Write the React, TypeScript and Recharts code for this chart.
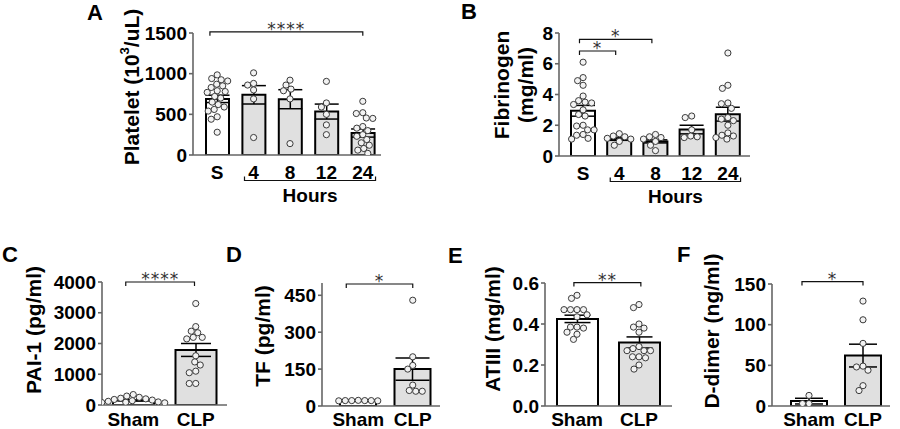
import React from 'react';
import { ComposedChart, Bar, Cell, ErrorBar, Scatter, XAxis, YAxis, ReferenceLine } from 'recharts';

const FONT = "'Liberation Sans', Arial, Helvetica, sans-serif";

// A - platelets
const plateletGroups = ['S', '4', '8', '12', '24'];
const plateletMean = [690, 740, 686, 534, 270];
const plateletSem = [45, 113, 117, 92, 50];
const plateletS = [985, 940, 925, 910, 870, 850, 830, 790, 780, 770, 720, 700, 650, 620, 590, 560, 540, 470, 440, 280];
const platelet4 = [1010, 880, 860, 800, 690, 215];
const platelet8 = [920, 860, 810, 790, 690, 140];
const platelet12 = [905, 640, 590, 500, 370, 250];
const platelet24 = [660, 520, 510, 455, 450, 350, 330, 300, 250, 230, 190, 150, 120, 80, 60, 20];

// B - fibrinogen
const fibGroups = ['S', '4', '8', '12', '24'];
const fibMean = [2.94, 1.1, 0.95, 1.72, 2.72];
const fibSem = [0.35, 0.08, 0.1, 0.28, 0.45];
const fibS = [6.1, 5.1, 4.9, 4.6, 3.9, 3.6, 3.5, 3.45, 3.35, 3.0, 2.7, 2.6, 2.0, 1.95, 1.7, 1.7, 1.4, 1.35, 1.15, 1.1];
const fib4 = [1.45, 1.3, 1.25, 1.15, 1.1, 0.95, 0.7];
const fib8 = [1.4, 1.25, 1.2, 1.1, 0.95, 0.7, 0.35];
const fib12 = [2.6, 2.5, 1.7, 1.3, 1.25, 1.2];
const fib24 = [6.7, 4.6, 4.4, 3.45, 3.4, 3.1, 2.5, 2.4, 2.3, 2.0, 1.5, 1.35, 1.3, 1.2, 1.1];

// C - PAI-1
const shamClp = ['Sham', 'CLP'];
const paiMean = [150, 1790];
const paiSem = [20, 210];
const paiSham = [340, 290, 250, 220, 200, 180, 160, 140, 120, 100, 90, 80, 70, 60];
const paiClp = [3300, 2550, 2400, 2350, 2200, 2200, 2150, 1600, 1400, 1300, 1100, 1050, 700, 700];

// D - TF
const tfMean = [22, 150];
const tfSem = [1, 45];
const tfSham = [22, 21, 22, 23, 21, 22, 22];
const tfClp = [430, 200, 165, 150, 85, 63, 60, 60];

// E - ATIII
const atMean = [0.425, 0.31];
const atSem = [0.018, 0.027];
const atSham = [0.54, 0.525, 0.47, 0.47, 0.47, 0.47, 0.445, 0.435, 0.385, 0.38, 0.385, 0.36, 0.35, 0.325];
const atClp = [0.495, 0.48, 0.4, 0.385, 0.38, 0.36, 0.29, 0.28, 0.27, 0.27, 0.27, 0.24, 0.24, 0.235, 0.2, 0.18];

// F - D-dimer
const ddMean = [6, 62];
const ddSem = [3.5, 14];
const ddSham = [13, 3, 3];
const ddClp = [129, 106, 77, 49, 48, 44, 25, 19];

type Bracket = { from: number; to: number; y: number; stars: string };

type PanelCfg = {
  x0: number; yTop: number; plotW: number; plotH: number; padL: number; padR: number;
  labels: string[]; means: number[]; sems: number[]; dots: number[][];
  yMax: number; yTicks: number[]; fmt?: (v: number) => string;
  barSize: number; capW: number; tickGap: number;
  brackets: Bracket[]; hours?: boolean;
};

// simple beeswarm so circles don't sit on top of each other
function swarm(values: number[], center: number, pyPerUnit: number, pxPerUnit: number, d = 6.2) {
  const placed: { x: number; y: number }[] = [];
  const order = values.map((_, i) => i).sort((a, b) => values[b] - values[a]);
  const out: { x: number; y: number }[] = new Array(values.length);
  for (const i of order) {
    const py = values[i] * pyPerUnit;
    let best = 0;
    for (let k = 0; k < 400; k++) {
      const off = (k % 2 === 0 ? 1 : -1) * Math.ceil(k / 2) * 0.5;
      if (placed.every((p) => (p.x - off) ** 2 + (p.y - py) ** 2 >= d * d)) {
        best = off;
        break;
      }
    }
    placed.push({ x: best, y: py });
    out[i] = { x: center + best / pxPerUnit, y: values[i] };
  }
  return out;
}

const Dot = (props: any) => (
  <circle cx={props.cx} cy={props.cy} r={3.1} fill="#f2f2f2" stroke="#3a3a3a" strokeWidth={1} />
);

const bracketShape = (stars: string) => (p: any) => (
  <g>
    <path
      d={`M${p.x1},${p.y1 + 4}L${p.x1},${p.y1}L${p.x2},${p.y2}L${p.x2},${p.y2 + 4}`}
      fill="none"
      stroke="#111"
      strokeWidth={1.2}
    />
    <text
      x={(p.x1 + p.x2) / 2}
      y={p.y1 + 3}
      textAnchor="middle"
      fontFamily="'DejaVu Sans', sans-serif"
      fontSize={17}
      letterSpacing={1}
      fill="#333"
    >
      {stars}
    </text>
  </g>
);

const hoursShape = (p: any) => (
  <g>
    <path
      d={`M${p.x1},${p.y1 + 21.5}L${p.x1},${p.y1 + 25.5}L${p.x2},${p.y2 + 25.5}L${p.x2},${p.y2 + 21.5}`}
      fill="none"
      stroke="#111"
      strokeWidth={1.2}
    />
    <text x={(p.x1 + p.x2) / 2} y={p.y1 + 46.5} textAnchor="middle" fontFamily={FONT} fontWeight="bold" fontSize={19} fill="#000">
      Hours
    </text>
  </g>
);

const LEFT = 60;
const TOP = 40;
const RIGHT = 10;
const BOTTOM = 50;

function Panel({ cfg }: { cfg: PanelCfg }) {
  const n = cfg.labels.length;
  const data = cfg.means.map((m, i) => ({ x: i, label: cfg.labels[i], mean: m, sem: cfg.sems[i] }));
  const bw = (cfg.plotW - cfg.padL - cfg.padR) / n;
  const pts = cfg.dots.flatMap((vals, i) => swarm(vals, i, cfg.plotH / cfg.yMax, bw));
  const width = LEFT + cfg.plotW + RIGHT;
  const height = TOP + cfg.plotH + BOTTOM;
  const tickStyle = { fontFamily: FONT, fontWeight: 'bold' as const, fontSize: 19, fill: '#000' };
  const axisStroke = { stroke: '#666', strokeWidth: 1.6 };
  return (
    <div style={{ position: 'absolute', left: cfg.x0 - LEFT, top: cfg.yTop - TOP }}>
      <ComposedChart width={width} height={height} data={data} margin={{ top: TOP, right: RIGHT, bottom: 0, left: 0 }}>
        <XAxis
          xAxisId="cat"
          type="category"
          dataKey="label"
          padding={{ left: cfg.padL, right: cfg.padR }}
          height={BOTTOM}
          tickLine={false}
          tickSize={0}
          tickMargin={cfg.tickGap}
          axisLine={axisStroke}
          tick={tickStyle}
          interval={0}
        />
        <XAxis
          xAxisId="num"
          type="number"
          dataKey="x"
          domain={[-0.5, n - 0.5]}
          allowDataOverflow
          padding={{ left: cfg.padL, right: cfg.padR }}
          hide
        />
        <YAxis
          type="number"
          domain={[0, cfg.yMax]}
          allowDataOverflow
          ticks={cfg.yTicks}
          tickFormatter={cfg.fmt}
          width={LEFT}
          tickSize={4}
          tickMargin={2}
          axisLine={axisStroke}
          tickLine={axisStroke}
          tick={tickStyle}
          interval={0}
        />
        <Bar xAxisId="cat" dataKey="mean" barSize={cfg.barSize} stroke="#000" strokeWidth={2} isAnimationActive={false}>
          {data.map((_, i) => (
            <Cell key={i} fill={i === 0 ? '#ffffff' : '#e0e0e0'} />
          ))}
          <ErrorBar dataKey="sem" width={cfg.capW} stroke="#000" strokeWidth={1.5} isAnimationActive={false} />
        </Bar>
        <Scatter xAxisId="num" data={pts} dataKey="y" shape={Dot} isAnimationActive={false} />
        {cfg.brackets.map((b, i) => (
          <ReferenceLine
            key={`br${i}`}
            xAxisId="num"
            segment={[{ x: b.from, y: b.y }, { x: b.to, y: b.y }]}
            ifOverflow="visible"
            shape={bracketShape(b.stars)}
          />
        ))}
        {cfg.hours && (
          <ReferenceLine
            xAxisId="num"
            segment={[{ x: 0.75, y: 0 }, { x: n - 0.65, y: 0 }]}
            ifOverflow="visible"
            shape={hoursShape}
          />
        )}
      </ComposedChart>
    </div>
  );
}

const panels: PanelCfg[] = [
  {
    x0: 193, yTop: 33, plotW: 188, plotH: 122, padL: 6, padR: 0,
    labels: plateletGroups, means: plateletMean, sems: plateletSem,
    dots: [plateletS, platelet4, platelet8, platelet12, platelet24],
    yMax: 1500, yTicks: [0, 500, 1000, 1500], barSize: 23, capW: 12, tickGap: 11,
    brackets: [{ from: -0.2, to: 4, y: 1515, stars: '****' }], hours: true,
  },
  {
    x0: 559, yTop: 33, plotW: 191, plotH: 123, padL: 6, padR: 4,
    labels: fibGroups, means: fibMean, sems: fibSem,
    dots: [fibS, fib4, fib8, fib12, fib24],
    yMax: 8, yTicks: [0, 2, 4, 6, 8], barSize: 24, capW: 12, tickGap: 11,
    brackets: [
      { from: -0.1, to: 1.9, y: 7.59, stars: '*' },
      { from: -0.1, to: 0.9, y: 6.83, stars: '*' },
    ],
    hours: true,
  },
  {
    x0: 102, yTop: 282, plotW: 125, plotH: 123, padL: 0, padR: 0,
    labels: shamClp, means: paiMean, sems: paiSem, dots: [paiSham, paiClp],
    yMax: 4000, yTicks: [0, 1000, 2000, 3000, 4000], barSize: 41, capW: 15, tickGap: 8,
    brackets: [{ from: -0.12, to: 0.98, y: 4000, stars: '****' }],
  },
  {
    x0: 322, yTop: 283, plotW: 118, plotH: 123, padL: 9, padR: 0,
    labels: shamClp, means: tfMean, sems: tfSem, dots: [tfSham, tfClp],
    yMax: 500, yTicks: [0, 150, 300, 450], barSize: 36, capW: 17, tickGap: 7,
    brackets: [{ from: -0.22, to: 1, y: 496, stars: '*' }],
  },
  {
    x0: 545, yTop: 283, plotW: 127, plotH: 123, padL: 1, padR: 2,
    labels: shamClp, means: atMean, sems: atSem, dots: [atSham, atClp],
    yMax: 0.6, yTicks: [0, 0.2, 0.4, 0.6], fmt: (v: number) => v.toFixed(1),
    barSize: 41, capW: 13, tickGap: 7,
    brackets: [{ from: -0.05, to: 1.03, y: 0.602, stars: '**' }],
  },
  {
    x0: 772, yTop: 284, plotW: 118, plotH: 122, padL: 10, padR: 0,
    labels: shamClp, means: ddMean, sems: ddSem, dots: [ddSham, ddClp],
    yMax: 150, yTicks: [0, 50, 100, 150], barSize: 36, capW: 14, tickGap: 7,
    brackets: [{ from: -0.13, to: 1, y: 153, stars: '*' }],
  },
];

const letters = [
  { t: 'A', x: 87, y: 20 },
  { t: 'B', x: 461, y: 19 },
  { t: 'C', x: 2, y: 262 },
  { t: 'D', x: 226, y: 262 },
  { t: 'E', x: 448, y: 263 },
  { t: 'F', x: 677, y: 262 },
];

const titleStyle = { fontFamily: FONT, fontWeight: 'bold' as const, fontSize: 21, fill: '#000' };

function Titles() {
  const rot = (x: number, y: number) => `translate(${x},${y}) rotate(-90)`;
  return (
    <svg width={900} height={429} style={{ position: 'absolute', left: 0, top: 0 }}>
      {letters.map((l) => (
        <text key={l.t} x={l.x} y={l.y} fontFamily={FONT} fontWeight="bold" fontSize={22}>
          {l.t}
        </text>
      ))}
      <text transform={rot(131, 87)} textAnchor="middle" dominantBaseline="central" {...titleStyle}>
        Platelet (10<tspan dy={-7} fontSize={13}>3</tspan>
        <tspan dy={7}>/uL)</tspan>
      </text>
      <text transform={rot(501, 85)} textAnchor="middle" dominantBaseline="central" {...titleStyle}>
        Fibrinogen
      </text>
      <text transform={rot(525, 85)} textAnchor="middle" dominantBaseline="central" {...titleStyle}>
        (mg/ml)
      </text>
      <text transform={rot(33, 330)} textAnchor="middle" dominantBaseline="central" {...titleStyle}>
        PAI-1 (pg/ml)
      </text>
      <text transform={rot(262, 336)} textAnchor="middle" dominantBaseline="central" {...titleStyle}>
        TF (pg/ml)
      </text>
      <text transform={rot(492, 329)} textAnchor="middle" dominantBaseline="central" {...titleStyle}>
        ATIII (mg/ml)
      </text>
      <text transform={rot(711, 331)} textAnchor="middle" dominantBaseline="central" {...titleStyle}>
        D-dimer (ng/ml)
      </text>
    </svg>
  );
}

export default function App() {
  return (
    <div style={{ position: 'absolute', left: 0, top: 0, width: 900, height: 429, background: '#fff', overflow: 'hidden' }}>
      <Titles />
      {panels.map((p, i) => (
        <Panel key={i} cfg={p} />
      ))}
    </div>
  );
}
